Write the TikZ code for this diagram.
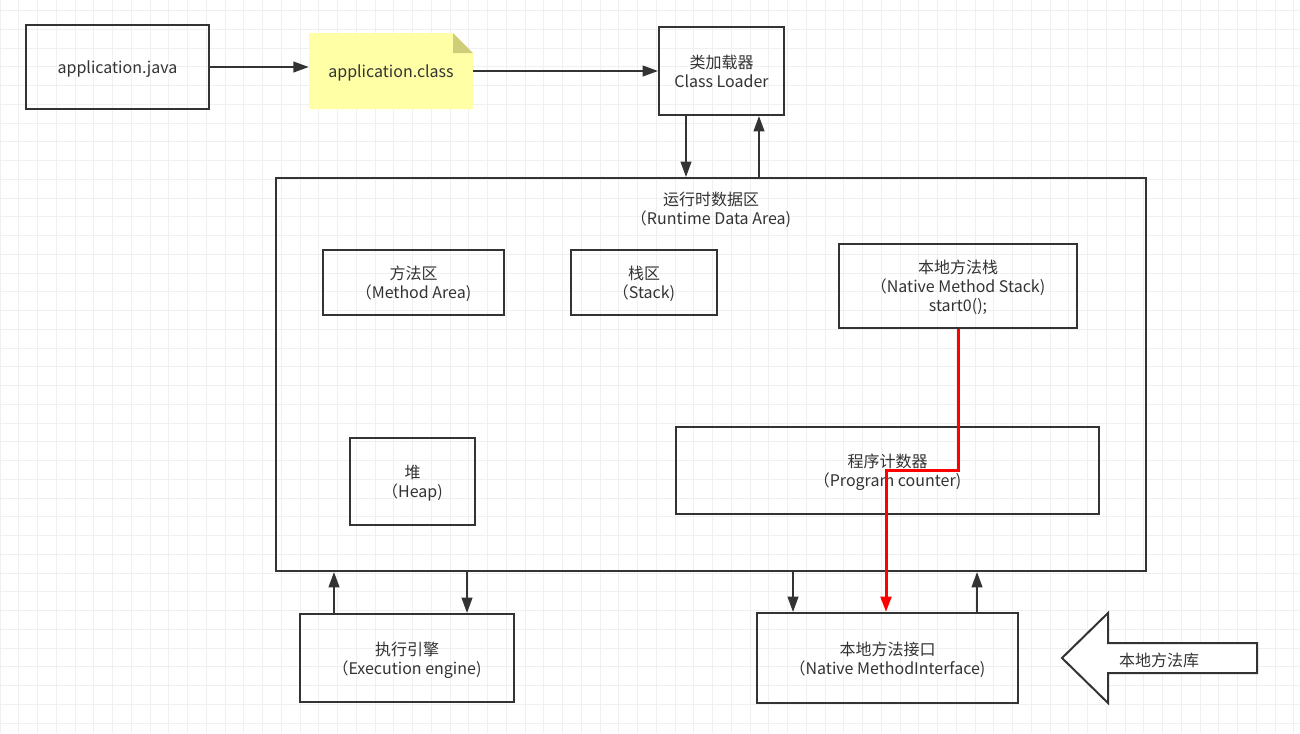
\documentclass[tikz,border=0pt]{standalone}
\usepackage{fontspec}
\setmainfont{Noto Sans CJK SC}
\usepackage{tikz}
\usetikzlibrary{arrows.meta,positioning,calc}
\definecolor{inkgray}{RGB}{51,51,51}
\definecolor{gridgray}{RGB}{240,240,240}
\definecolor{noteyellow}{RGB}{255,255,166}
\definecolor{foldyellow}{RGB}{206,206,122}
\definecolor{callred}{RGB}{255,0,0}

\begin{document}
\begin{tikzpicture}[x=0.75pt, y=-0.75pt,
    font=\fontsize{12}{14.25}\selectfont, text=inkgray,
    box/.style={draw=inkgray, line width=1.5pt, inner sep=0pt, align=center, text depth=-2pt},
    size/.style 2 args={minimum width=#1*0.75pt, minimum height=#2*0.75pt},
    arr/.style={draw=inkgray, line width=1.5pt, -{Triangle[length=11.5pt,width=8pt]}},
    redarr/.style={draw=callred, line width=2.25pt, -{Triangle[length=11.5pt,width=8pt]}},
    gridline/.style={draw=gridgray, line width=0.75pt}]
  % ---- page and grid ----
  \fill[white] (0,0) rectangle (1300,733);
  \useasboundingbox (0,0) rectangle (1300,733);
  \foreach \i in {0,...,69}
    \draw[gridline] (\i*18.75,0) -- (\i*18.75,733);
  \foreach \j in {0,...,38}
    \draw[gridline] (0,10.5+\j*18.75) -- (1300,10.5+\j*18.75);
  % ---- top row: source, class file, loader ----
  \node[box, size={183}{84}] (java) at (117.5,67) {application.java};
  % note with folded corner
  \fill[noteyellow] (309,33) -- (453,33) -- (473,53) -- (473,109) -- (309,109) -- cycle;
  \fill[foldyellow] (453,33) -- (473,53) -- (453,53) -- cycle;
  \node[inner sep=0pt, text depth=-2pt, size={164}{76}] (class) at (391,71) {application.class};
  \node[box, size={125}{88}] (loader) at (721.5,71) {类加载器\\Class Loader};
  \draw[arr] (java.east) -- (class.west |- java.east);
  \draw[arr] (class.east) -- (loader.west |- class.east);
  % ---- runtime data area ----
  \node[box, size={870}{393}] (rda) at (711,374.5) {};
  \node[align=center, below=7.5pt of rda.north] (rdatitle) {运行时数据区\\（Runtime Data Area)};
  \node[box, size={181}{65}] (method) at (413.5,282.5) {方法区\\（Method Area)};
  \node[box, size={146}{65}] (stack) at (644,282.5) {栈区\\（Stack)};
  \node[box, size={238}{84}] (nms) at (958,286) {本地方法栈\\（Native Method Stack)\\start0();};
  \node[box, size={125}{87}] (heap) at (412.5,481.5) {堆\\（Heap)};
  \node[box, size={423}{87}] (pc) at (887.5,470.5) {程序计数器\\（Program counter)};
  % ---- bottom row ----
  \node[box, size={214}{88}] (engine) at (407,658) {执行引擎\\（Execution engine)};
  \node[box, size={261}{90}] (nmi) at (887.5,658) {本地方法接口\\（Native MethodInterface)};
  % big arrow: native library
  \draw[draw=inkgray, line width=1.5pt, fill=white]
    (1062,658) -- (1108,613) -- (1108,643) -- (1257,643) -- (1257,673)
    -- (1108,673) -- (1108,703) -- cycle;
  \node (lib) at (1159,660) {本地方法库};
  % ---- connectors ----
  \coordinate (cl1) at (686,0);
  \coordinate (cl2) at (759,0);
  \coordinate (ee1) at (334,0);
  \coordinate (ee2) at (467,0);
  \coordinate (ni1) at (793,0);
  \coordinate (ni2) at (977,0);
  \coordinate (bend1) at (958,470);
  \coordinate (bend2) at (886,470);
  \draw[arr] (loader.south -| cl1) -- (rda.north -| cl1);
  \draw[arr] (rda.north -| cl2) -- (loader.south -| cl2);
  \draw[arr] (engine.north -| ee1) -- (rda.south -| ee1);
  \draw[arr] (rda.south -| ee2) -- (engine.north -| ee2);
  \draw[arr] (rda.south -| ni1) -- (nmi.north -| ni1);
  \draw[arr] (nmi.north -| ni2) -- (rda.south -| ni2);
  % call path from native stack
  \draw[redarr] (nms.south -| bend1) -- (bend1) -- (bend2) -- (nmi.north -| bend2);
\end{tikzpicture}
\end{document}
